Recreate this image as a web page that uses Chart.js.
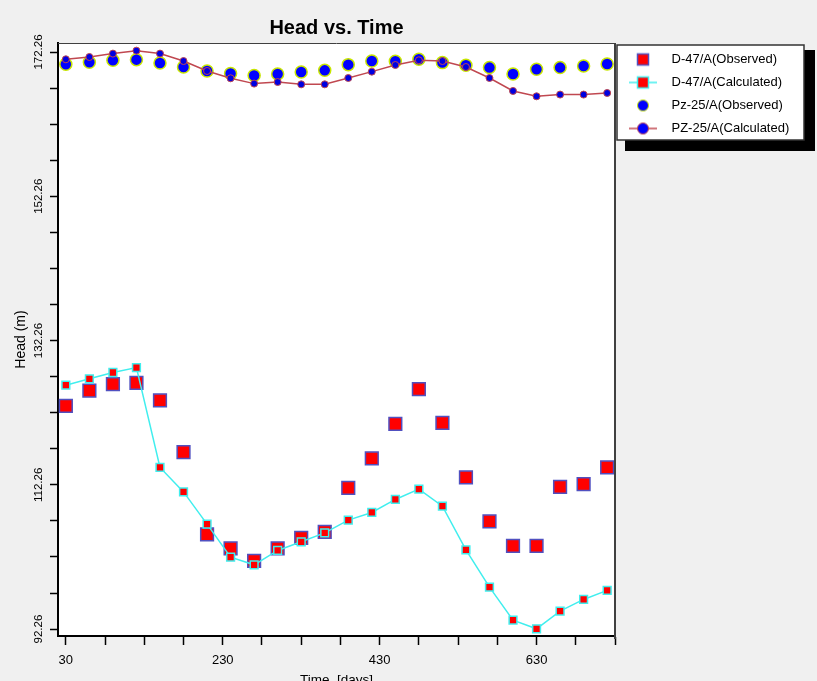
<!DOCTYPE html>
<html>
<head>
<meta charset="utf-8">
<title>Head vs. Time</title>
<script src="https://cdn.jsdelivr.net/npm/chart.js@4.4.0/dist/chart.umd.min.js"></script>
<style>
  html, body { margin: 0; padding: 0; background: #f0f0f0; }
  #wrap { width: 817px; height: 681px; }
</style>
</head>
<body>
<div id="wrap"><canvas id="headChart" width="817" height="681"></canvas></div>
<script>
// time axis (days) shared by all four series
const days = [30, 60, 90, 120, 150, 180, 210, 240, 270, 300, 330, 360,
              390, 420, 450, 480, 510, 540, 570, 600, 630, 660, 690, 720];

const d47Observed = [123.2, 125.33, 126.21, 126.39, 123.95, 116.79, 105.38, 103.44, 101.72, 103.44, 104.91, 105.74,
                     111.84, 115.91, 120.71, 125.52, 120.85, 113.28, 107.18, 103.8, 103.8, 111.98, 112.35, 114.67];
const d47Calculated = [126.07, 126.95, 127.83, 128.52, 114.67, 111.28, 106.81, 102.23, 101.17, 103.16, 104.36, 105.6,
                       107.36, 108.43, 110.23, 111.66, 109.3, 103.25, 98.08, 93.5, 92.3, 94.75, 96.37, 97.62];
const pz25Observed = [170.56, 170.83, 171.11, 171.2, 170.74, 170.18, 169.63, 169.27, 169.0, 169.21, 169.49, 169.72,
                      170.51, 171.01, 170.97, 171.25, 170.79, 170.42, 170.1, 169.21, 169.86, 170.1, 170.32, 170.6];
const pz25Calculated = [171.25, 171.57, 172.04, 172.45, 172.04, 171.01, 169.63, 168.62, 167.88, 168.1, 167.78, 167.78,
                        168.66, 169.54, 170.46, 171.11, 171.01, 170.18, 168.66, 166.86, 166.12, 166.36, 166.36, 166.58];

const seriesLabels = ['D-47/A(Observed)', 'D-47/A(Calculated)', 'Pz-25/A(Observed)', 'PZ-25/A(Calculated)'];

// axis ticks: labelled majors, unlabelled minors in between
const xMajorTicks = [30, 230, 430, 630];
const xMinorStep = 50;
const xRange = [20, 730];
const yMajorTicks = [92.26, 112.26, 132.26, 152.26, 172.26];
const yMinorStep = 5;
const yRange = [91.3, 173.51];

const xTickValues = [];
for (let v = xMajorTicks[0]; v <= xRange[1] + 0.01; v += xMinorStep) xTickValues.push(v);
const yTickValues = [];
for (let v = yMajorTicks[0]; v <= yRange[1]; v += yMinorStep) yTickValues.push(+v.toFixed(2));

const toPoints = arr => days.map((d, i) => ({ x: d, y: arr[i] }));

const RED = '#ff0000', BLUE = '#0000ff';
const SQ_EDGE = '#5050c0', CYAN = '#40eeee', YEL = '#c8e600', DARKRED = '#c04850';

// legend symbols: marker, with a line through it for the calculated series
function legendIcon(kind) {
    const c = document.createElement('canvas');
    c.width = 40; c.height = 16;
    const g = c.getContext('2d');
    const cx = 18, cy = 8;
    if (kind === 'd47calc' || kind === 'pzcalc') {
        g.strokeStyle = kind === 'd47calc' ? CYAN : DARKRED;
        g.lineWidth = 1.5;
        g.beginPath(); g.moveTo(cx - 14, cy); g.lineTo(cx + 14, cy); g.stroke();
    }
    if (kind === 'd47obs' || kind === 'd47calc') {
        g.fillStyle = RED;
        g.fillRect(cx - 5.5, cy - 5.5, 11, 11);
        g.strokeStyle = kind === 'd47obs' ? SQ_EDGE : CYAN;
        g.lineWidth = 1.5;
        g.strokeRect(cx - 5.5, cy - 5.5, 11, 11);
    } else {
        g.fillStyle = BLUE;
        g.beginPath(); g.arc(cx, cy, 5.5, 0, Math.PI * 2); g.fill();
        g.strokeStyle = kind === 'pzobs' ? YEL : DARKRED;
        g.lineWidth = 1;
        g.stroke();
    }
    return c;
}
const icons = [legendIcon('d47obs'), legendIcon('d47calc'), legendIcon('pzobs'), legendIcon('pzcalc')];

const framePlugin = {
    id: 'frame',
    beforeDraw(chart) {
        const { ctx, chartArea: a, legend } = chart;
        ctx.save();
        ctx.fillStyle = '#f0f0f0';
        ctx.fillRect(0, 0, chart.width, chart.height);
        ctx.fillStyle = '#ffffff';
        ctx.fillRect(a.left, a.top, a.right - a.left, a.bottom - a.top);
        // legend box with its heavy drop shadow
        const lx = legend.left + 2, ly = legend.top + 2;
        ctx.fillStyle = '#000';
        ctx.fillRect(lx + 8, ly + 5, 190, 101);
        ctx.fillStyle = '#fff';
        ctx.fillRect(lx, ly, 187, 95);
        ctx.strokeStyle = '#333';
        ctx.lineWidth = 1.5;
        ctx.strokeRect(lx, ly, 187, 95);
        ctx.restore();
    },
    afterDraw(chart) {
        const { ctx, chartArea: a } = chart;
        ctx.save();
        ctx.strokeStyle = '#404040';
        ctx.lineWidth = 1;
        ctx.beginPath();
        ctx.moveTo(a.left, a.top + 0.5); ctx.lineTo(a.right, a.top + 0.5);
        ctx.stroke();
        ctx.lineWidth = 2;
        ctx.beginPath();
        ctx.moveTo(a.right, a.top); ctx.lineTo(a.right, a.bottom + 3);
        ctx.stroke();
        ctx.restore();
    }
};

const tickFont = { family: 'Arial, "Liberation Sans", sans-serif', size: 13 };

const chart = new Chart(document.getElementById('headChart').getContext('2d'), {
    type: 'scatter',
    data: {
        datasets: [
            {
                label: seriesLabels[0], data: toPoints(d47Observed), showLine: false,
                pointStyle: 'rect', pointRadius: 9, pointHoverRadius: 9,
                pointBackgroundColor: RED, pointBorderColor: SQ_EDGE, pointBorderWidth: 1.5, order: 2
            },
            {
                label: seriesLabels[1], data: toPoints(d47Calculated), showLine: true,
                borderColor: CYAN, borderWidth: 1.5, tension: 0,
                pointStyle: 'rect', pointRadius: 5.5, pointHoverRadius: 5.5,
                pointBackgroundColor: RED, pointBorderColor: CYAN, pointBorderWidth: 1.5, order: 1
            },
            {
                label: seriesLabels[2], data: toPoints(pz25Observed), showLine: false,
                pointStyle: 'circle', pointRadius: 6, pointHoverRadius: 6,
                pointBackgroundColor: BLUE, pointBorderColor: YEL, pointBorderWidth: 1.5, order: 2
            },
            {
                label: seriesLabels[3], data: toPoints(pz25Calculated), showLine: true,
                borderColor: DARKRED, borderWidth: 1.5, tension: 0,
                pointStyle: 'circle', pointRadius: 3.5, pointHoverRadius: 3.5,
                pointBackgroundColor: '#0000e0', pointBorderColor: DARKRED, pointBorderWidth: 1, order: 1
            }
        ]
    },
    options: {
        responsive: false,
        animation: false,
        devicePixelRatio: 1,
        layout: { padding: { left: 0, right: 0, top: 0, bottom: 0 } },
        plugins: {
            title: {
                display: true,
                text: 'Head vs. Time',
                color: '#000',
                fullSize: false,
                font: { family: 'Arial, "Liberation Sans", sans-serif', size: 20, weight: 'bold' },
                padding: { top: 16, bottom: 3 }
            },
            legend: {
                position: 'right',
                align: 'start',
                fullSize: false,
                labels: {
                    usePointStyle: true,
                    pointStyleWidth: 40,
                    padding: 10,
                    color: '#000',
                    font: { family: 'Arial, "Liberation Sans", sans-serif', size: 13 },
                    generateLabels: ch => ch.data.datasets.map((ds, i) => ({
                        text: ds.label,
                        pointStyle: icons[i],
                        fillStyle: 'transparent',
                        strokeStyle: 'transparent',
                        lineWidth: 0,
                        fontColor: '#000',
                        hidden: false,
                        datasetIndex: i
                    }))
                }
            },
            tooltip: { enabled: false }
        },
        scales: {
            x: {
                type: 'linear',
                min: xRange[0],
                max: xRange[1],
                afterBuildTicks: s => { s.ticks = xTickValues.map(v => ({ value: v })); },
                afterFit: s => { s.height = 45; },
                grid: { drawOnChartArea: false, drawTicks: true, tickLength: 9, tickColor: '#000', tickWidth: 1.5 },
                border: { display: true, color: '#000', width: 2 },
                ticks: {
                    autoSkip: false, maxRotation: 0, minRotation: 0, padding: 8,
                    color: '#000', font: tickFont,
                    callback: v => xMajorTicks.includes(v) ? String(v) : ''
                },
                title: {
                    display: true, text: 'Time  [days]', color: '#000',
                    font: { family: 'Arial, "Liberation Sans", sans-serif', size: 13.5 },
                    padding: { top: 0, bottom: -7 }
                }
            },
            y: {
                type: 'linear',
                min: yRange[0],
                max: yRange[1],
                afterBuildTicks: s => { s.ticks = yTickValues.map(v => ({ value: v })); },
                afterFit: s => { s.width = 58; },
                grid: { drawOnChartArea: false, drawTicks: true, tickLength: 8, tickColor: '#000', tickWidth: 1.5 },
                border: { display: true, color: '#000', width: 2 },
                ticks: {
                    autoSkip: false, minRotation: 90, maxRotation: 90, crossAlign: 'center', padding: -6,
                    color: '#000',
                    font: { family: 'Arial, "Liberation Sans", sans-serif', size: 11.5 },
                    callback: v => {
                        const m = yMajorTicks.find(t => Math.abs(t - v) < 0.01);
                        return m !== undefined ? m.toFixed(2) : '';
                    }
                },
                title: {
                    display: true, text: 'Head (m)', color: '#000',
                    font: { family: 'Arial, "Liberation Sans", sans-serif', size: 14 },
                    padding: { top: 12.6, bottom: 0 }
                }
            }
        }
    },
    plugins: [framePlugin]
});

// pin the plot's right edge where the reference has it; the legend takes the rest
const diff = chart.chartArea.right - 615;
if (Math.abs(diff) > 0.5) {
    chart.options.layout.padding.right += diff;
    chart.update('none');
}
</script>
</body>
</html>
